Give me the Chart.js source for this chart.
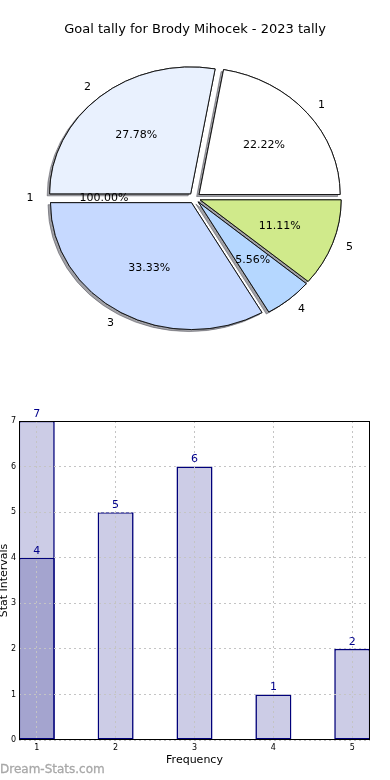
<!DOCTYPE html>
<html><head><meta charset="utf-8">
<script src="https://cdn.jsdelivr.net/npm/chart.js@4"></script>
<style>
html,body{margin:0;padding:0;background:#fff;width:390px;height:780px;overflow:hidden;position:relative;}
#pie{position:absolute;left:0;top:0;}
#bar{position:absolute;left:0;top:380px;}
#wm{position:absolute;left:0;top:762px;font:12px "DejaVu Sans";color:#a8a8a8;-webkit-text-stroke:0.3px #a8a8a8;}
</style></head><body>
<canvas id="pie" width="390" height="380"></canvas>
<canvas id="bar" width="390" height="400"></canvas>
<div id="wm">Dream-Stats.com</div>
<script>
// ---- data ----
const chartTitle = "Goal tally for Brody Mihocek - 2023 tally";
const pieLabels = ["1","2","1","3","4","5"];
const pieValues = [4,5,0,6,1,2];
const piePctLabels = ["22.22%","27.78%","100.00%","33.33%","5.56%","11.11%"];
const pieColors = ["#ffffff","#e9f1fe","#ffffff","#c6d9ff","#b5d7ff","#d0ea8b"];
const barCategories = [1,2,3,4,5];
const barValues = [7,5,6,1,2];
const overlayCategories = [1];
const overlayValues = [4];
const yTickValues = [0,1,2,3,4,5,6,7];
const xAxisLabel = "Frequency";
const yAxisLabel = "Stat Intervals";

// ---- pie ----
const SY = 0.9, EXPLODE = 6, RADIUS = 141;
const rev = a => a.slice().reverse();
const FONT = '"DejaVu Sans", sans-serif';

const piePlugin = {
  id: 'piePlugin',
  beforeDatasetsDraw(chart) {
    const ctx = chart.ctx;
    const meta = chart.getDatasetMeta(0);
    const cx = meta.data[0].x, cy = meta.data[0].y;
    for (let pass = 0; pass < 2; pass++) {
      ctx.save();
      if (pass === 0) {
        ctx.shadowColor = 'rgba(70,70,80,0.5)';
        ctx.shadowOffsetX = -2.5;
        ctx.shadowOffsetY = 2;
        ctx.shadowBlur = 0;
      }
      ctx.translate(cx, cy); ctx.scale(1, SY); ctx.translate(-cx, -cy);
      meta.data.forEach(arc => {
        const mid = (arc.startAngle + arc.endAngle) / 2;
        ctx.save();
        ctx.translate(Math.cos(mid) * EXPLODE, Math.sin(mid) * EXPLODE);
        arc.draw(ctx);
        ctx.restore();
      });
      ctx.restore();
    }
    return false;
  },
  afterDraw(chart) {
    const ctx = chart.ctx;
    const meta = chart.getDatasetMeta(0);
    const labs = rev(pieLabels), pcts = rev(piePctLabels);
    ctx.save();
    ctx.fillStyle = '#000';
    ctx.font = '13px ' + FONT;
    ctx.textAlign = 'center'; ctx.textBaseline = 'middle';
    ctx.fillText(chartTitle, 195, 30);
    ctx.font = '11px ' + FONT;
    meta.data.forEach((arc, i) => {
      const mid = (arc.startAngle + arc.endAngle) / 2;
      const R = arc.outerRadius;
      const c = Math.cos(mid), s = Math.sin(mid);
      const lx = arc.x + c * (EXPLODE + 1.1 * R), ly = arc.y + s * (EXPLODE + 1.1 * R) * SY;
      ctx.textAlign = c > 1e-6 ? 'left' : 'right';
      ctx.fillText(labs[i], lx, ly);
      const px = arc.x + c * (EXPLODE + 0.6 * R), py = arc.y + s * (EXPLODE + 0.6 * R) * SY;
      ctx.textAlign = 'center';
      ctx.fillText(pcts[i], px, py);
    });
    ctx.restore();
  }
};

new Chart(document.getElementById('pie'), {
  type: 'pie',
  data: {
    labels: rev(pieLabels),
    datasets: [{
      data: rev(pieValues),
      backgroundColor: rev(pieColors),
      borderColor: '#111',
      borderWidth: rev(pieValues).map(v => v ? 1 : 0),
      offset: 0
    }]
  },
  options: {
    responsive: false, animation: false, events: [],
    rotation: 90, radius: RADIUS,
    layout: {padding: {left: 20, right: 21, top: 46, bottom: 30}},
    plugins: {legend: {display: false}, tooltip: {enabled: false}}
  },
  plugins: [piePlugin]
});

// ---- bar ----
const barPlugin = {
  id: 'barPlugin',
  afterDraw(chart) {
    const ctx = chart.ctx, a = chart.chartArea;
    ctx.save();
    ctx.strokeStyle = '#000'; ctx.lineWidth = 1;
    ctx.strokeRect(Math.round(a.left) + 0.5, Math.round(a.top) + 0.5, Math.round(a.right - a.left) - 1, Math.round(a.bottom - a.top) - 1);
    ctx.fillStyle = '#00008b';
    ctx.font = '11px ' + FONT;
    ctx.textAlign = 'center'; ctx.textBaseline = 'middle';
    chart.data.datasets.forEach((ds, di) => {
      chart.getDatasetMeta(di).data.forEach((bar, i) => {
        ctx.fillText(String(ds.data[i].y), bar.x, bar.y - 7);
      });
    });
    ctx.fillStyle = '#000';
    ctx.fillText(xAxisLabel, (a.left + a.right) / 2, a.bottom + 20);
    ctx.translate(4, (a.top + a.bottom) / 2);
    ctx.rotate(-Math.PI / 2);
    ctx.fillText(yAxisLabel, 0, 0);
    ctx.restore();
  }
};

const common = {grouped: false, barPercentage: 0.457, categoryPercentage: 1, borderColor: '#00007a', borderWidth: 1.6, borderSkipped: false};
new Chart(document.getElementById('bar'), {
  type: 'bar',
  data: {
    datasets: [
      Object.assign({data: overlayCategories.map((c, i) => ({x: c, y: overlayValues[i]})), backgroundColor: '#a4a4cf', order: 0}, common),
      Object.assign({data: barCategories.map((c, i) => ({x: c, y: barValues[i]})), backgroundColor: '#ccccE6', order: 1}, common)
    ]
  },
  options: {
    responsive: false, animation: false, events: [],
    layout: {padding: {top: 41, right: 20, left: 0, bottom: 0}},
    plugins: {legend: {display: false}, tooltip: {enabled: false}},
    scales: {
      x: {
        type: 'linear', min: 0.775, max: 5.225, offset: false,
        afterBuildTicks: s => { s.ticks = barCategories.map(v => ({value: v})); },
        afterFit: s => { s.height = 40; },
        ticks: {font: {size: 8, family: FONT}, color: '#000', padding: 3},
        grid: {color: '#c4c4c4', drawTicks: false, offset: false, z: 1},
        border: {display: false, dash: [2, 3]}
      },
      y: {
        min: 0, max: 7,
        afterBuildTicks: s => { s.ticks = yTickValues.map(v => ({value: v})); },
        afterFit: s => { s.width = 19; },
        ticks: {font: {size: 8, family: FONT}, color: '#000', padding: 3},
        grid: {color: '#c4c4c4', drawTicks: false, z: 1},
        border: {display: false, dash: [2, 3]}
      }
    }
  },
  plugins: [barPlugin]
});
</script>
</body></html>
